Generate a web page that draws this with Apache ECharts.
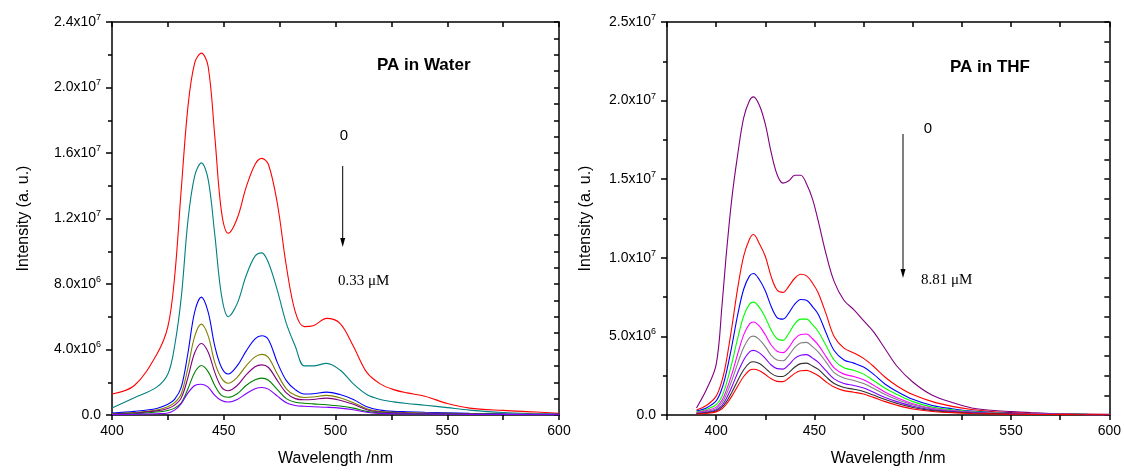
<!DOCTYPE html>
<html><head><meta charset="utf-8">
<script src="https://cdn.jsdelivr.net/npm/echarts@6/dist/echarts.min.js"></script>
<style>html,body{margin:0;padding:0;background:#fff}#c{width:1124px;height:472px}</style>
</head><body><div id="c"></div>
<script>
// ---------- data (intensity in units of 1e6 a.u.) ----------
const waterWl = [400,410,420,425,428,431,434,437,440,443,446,449,452,456,460,464,467,470,474,478,482,486,490,496,502,508,514,520,526,532,540,550,560,575,590,600];
const waterRed    = [1.28,1.8,3.7,5.4,8.4,13.8,18.85,21.5,22.1,21.3,17.0,12.4,11.1,12.0,13.9,15.3,15.67,15.3,12.9,9.1,6.3,5.4,5.45,5.9,5.6,4.2,2.6,1.9,1.55,1.35,1.15,0.7,0.42,0.28,0.18,0.1];
const waterTeal   = [0.42,1.05,1.7,2.5,4.2,7.2,11.9,14.6,15.4,14.4,11.0,7.3,6.0,6.8,8.5,9.7,9.9,9.3,7.6,5.6,4.2,3.0,3.0,3.15,2.75,1.9,1.25,0.95,0.8,0.7,0.6,0.45,0.3,0.15,0.08,0.05];
const waterBlue   = [0.12,0.22,0.4,0.65,0.95,1.7,3.8,6.3,7.2,6.3,4.2,2.9,2.5,3.0,3.9,4.65,4.84,4.6,3.2,2.1,1.55,1.28,1.3,1.4,1.25,0.95,0.5,0.3,0.22,0.2,0.17,0.14,0.1,0.07,0.05,0.05];
const waterOlive  = [0.08,0.15,0.3,0.5,0.75,1.3,2.9,4.8,5.55,4.85,3.2,2.25,1.94,2.3,3.0,3.55,3.7,3.5,2.5,1.6,1.2,1.07,1.1,1.2,1.05,0.75,0.38,0.22,0.17,0.15,0.12,0.1,0.08,0.05,0.04,0.03];
const waterPurple = [0.06,0.12,0.25,0.4,0.6,1.05,2.3,3.8,4.37,3.85,2.6,1.7,1.48,1.8,2.45,2.95,3.06,2.9,2.1,1.35,1.0,0.93,0.95,1.03,0.9,0.65,0.32,0.18,0.14,0.12,0.1,0.08,0.06,0.04,0.03,0.02];
const waterGreen  = [0.04,0.08,0.18,0.28,0.42,0.75,1.6,2.6,3.02,2.65,1.8,1.2,1.08,1.3,1.8,2.15,2.25,2.12,1.55,1.0,0.78,0.72,0.68,0.63,0.55,0.42,0.22,0.13,0.1,0.09,0.07,0.06,0.05,0.03,0.02,0.02];
const waterViolet = [0.02,0.04,0.08,0.12,0.3,0.7,1.35,1.8,1.88,1.7,1.2,0.88,0.79,0.95,1.3,1.6,1.68,1.58,1.15,0.75,0.58,0.53,0.5,0.47,0.42,0.32,0.17,0.1,0.08,0.07,0.06,0.05,0.04,0.03,0.02,0.02];

const thfWl = [390,395,400,403,405,408,411,414,417,419,422,425,428,431,434,437,440,443,446,449,452,456,460,465,470,475,480,486,492,500,510,520,530,540,550,560,570,585,600];
const thfPurple  = [0.45,1.6,3.2,7.0,10.0,13.8,16.6,18.9,20.0,20.24,19.7,18.5,16.7,15.3,14.75,14.9,15.25,15.25,14.7,13.75,12.3,10.2,8.5,7.3,6.7,6.0,5.3,4.2,3.1,2.1,1.25,0.8,0.45,0.3,0.22,0.15,0.1,0.06,0.04];
const thfRed1    = [0.32,0.6,1.2,2.2,3.3,5.6,8.1,10.1,11.2,11.48,10.9,10.1,8.8,7.95,7.8,8.2,8.7,8.95,8.85,8.4,7.75,6.4,5.0,4.25,3.95,3.6,3.1,2.4,1.85,1.3,0.85,0.55,0.35,0.22,0.15,0.1,0.07,0.05,0.03];
const thfBlue    = [0.25,0.45,0.9,1.7,2.6,4.4,6.4,8.0,8.85,9.0,8.6,7.9,6.9,6.2,6.1,6.5,7.05,7.35,7.3,6.9,6.4,5.2,4.1,3.5,3.3,3.05,2.6,1.96,1.5,1.0,0.6,0.4,0.25,0.17,0.12,0.08,0.06,0.04,0.03];
const thfGreen   = [0.2,0.35,0.65,1.2,1.9,3.3,4.9,6.3,7.05,7.18,6.85,6.2,5.4,4.85,4.75,5.2,5.8,6.1,6.1,5.75,5.3,4.4,3.5,3.0,2.85,2.6,2.2,1.7,1.3,0.85,0.5,0.33,0.22,0.15,0.1,0.07,0.05,0.04,0.03];
const thfMagenta = [0.15,0.28,0.5,0.95,1.5,2.6,3.9,5.1,5.8,5.92,5.65,5.1,4.45,4.05,3.97,4.3,4.85,5.12,5.15,4.85,4.45,3.7,3.0,2.6,2.45,2.25,1.9,1.45,1.1,0.72,0.42,0.28,0.19,0.13,0.09,0.06,0.05,0.03,0.02];
const thfGray    = [0.12,0.22,0.4,0.78,1.25,2.2,3.3,4.3,4.92,5.02,4.8,4.35,3.8,3.5,3.45,3.8,4.3,4.58,4.62,4.35,4.0,3.35,2.7,2.35,2.2,2.0,1.7,1.3,0.98,0.65,0.38,0.25,0.17,0.12,0.08,0.06,0.04,0.03,0.02];
const thfViolet  = [0.1,0.18,0.32,0.62,1.0,1.8,2.7,3.5,4.02,4.11,3.95,3.6,3.18,2.95,2.92,3.2,3.6,3.8,3.84,3.62,3.35,2.8,2.3,2.0,1.88,1.72,1.45,1.12,0.85,0.56,0.33,0.22,0.15,0.1,0.07,0.05,0.04,0.03,0.02];
const thfDark    = [0.08,0.14,0.26,0.5,0.8,1.45,2.2,2.88,3.32,3.39,3.27,2.98,2.65,2.47,2.45,2.7,3.05,3.27,3.3,3.12,2.9,2.42,2.0,1.75,1.64,1.5,1.27,0.98,0.74,0.48,0.28,0.19,0.13,0.09,0.06,0.04,0.03,0.02,0.02];
const thfRed2    = [0.06,0.1,0.2,0.4,0.65,1.2,1.85,2.45,2.85,2.91,2.82,2.58,2.3,2.14,2.12,2.35,2.65,2.82,2.84,2.7,2.5,2.1,1.78,1.55,1.45,1.33,1.12,0.85,0.62,0.38,0.22,0.15,0.1,0.07,0.05,0.04,0.03,0.02,0.02];

const waterSeries = [
  ['red', waterRed, '#ff0000'], ['teal', waterTeal, '#008080'], ['blue', waterBlue, '#0000ff'],
  ['olive', waterOlive, '#808000'], ['purple', waterPurple, '#800080'], ['green', waterGreen, '#008000'],
  ['violet', waterViolet, '#8000ff']
];
const thfSeries = [
  ['purple', thfPurple, '#800080'], ['red1', thfRed1, '#ff0000'], ['blue', thfBlue, '#0000ff'],
  ['green', thfGreen, '#00ff00'], ['magenta', thfMagenta, '#ff00ff'], ['gray', thfGray, '#808080'],
  ['violet', thfViolet, '#8000ff'], ['dark', thfDark, '#303030'], ['red2', thfRed2, '#ff0000']
];

// ---------- chart ----------
const FONT = 'Liberation Sans, Arial, sans-serif';
function sci(v) {
  if (v === 0) return '{m|0.0}';
  let exp = 6, m = v;
  if (v >= 10) { exp = 7; m = v / 10; }
  return '{m|' + m.toFixed(1) + 'x10}{s|' + exp + '}';
}
const richLab = {
  m: { fontSize: 14, fontFamily: FONT, color: '#000' },
  s: { fontSize: 9, fontFamily: FONT, color: '#000', verticalAlign: 'top', padding: [0, 0, 9, 0] }
};
const axLine = { show: true, onZero: false, lineStyle: { color: '#000', width: 1.5 } };

function xBottom(grid, min) {
  return {
    type: 'value', gridIndex: grid, position: 'bottom', min: min, max: 600, interval: 25,
    axisLine: axLine, splitLine: { show: false },
    axisTick: { inside: false, length: 5, lineStyle: { color: '#000', width: 1.5 } },
    axisLabel: { margin: 9, fontSize: 14, fontFamily: FONT, color: '#000',
      formatter: v => (v % 50 === 0 ? String(v) : '') },
    name: 'Wavelength /nm', nameLocation: 'middle', nameGap: 36,
    nameTextStyle: { fontSize: 16, fontFamily: FONT, color: '#000' }
  };
}
function xTop(grid, min) {
  return {
    type: 'value', gridIndex: grid, position: 'top', min: min, max: 600, interval: 25,
    axisLine: axLine, splitLine: { show: false },
    axisTick: { inside: true, length: 5, lineStyle: { color: '#000', width: 1.5 } },
    axisLabel: { show: false }
  };
}
function yLeft(grid, max, interval, gap) {
  return {
    type: 'value', gridIndex: grid, position: 'left', min: 0, max: max, interval: interval,
    axisLine: axLine, splitLine: { show: false },
    axisTick: { inside: false, length: 6, lineStyle: { color: '#000', width: 1.5 } },
    minorTick: { show: true, splitNumber: 2, length: 4, lineStyle: { color: '#000', width: 1.5 } },
    axisLabel: { margin: 11, formatter: sci, rich: richLab },
    name: 'Intensity (a. u.)', nameLocation: 'middle', nameGap: gap, nameRotate: 90,
    nameTextStyle: { fontSize: 16, fontFamily: FONT, color: '#000' }
  };
}
function yRight(grid, max, interval) {
  return {
    type: 'value', gridIndex: grid, position: 'right', min: 0, max: max, interval: interval,
    axisLine: axLine, splitLine: { show: false },
    axisTick: { inside: true, length: 5, lineStyle: { color: '#000', width: 1.5 } },
    minorTick: { show: true, splitNumber: 2, length: 5, lineStyle: { color: '#000', width: 1.5 } },
    axisLabel: { show: false }
  };
}
function mk(list, wl, xi, yi) {
  return list.map(([name, vals, color]) => ({
    name: name, type: 'line', xAxisIndex: xi, yAxisIndex: yi,
    data: wl.map((w, i) => [w, vals[i]]),
    showSymbol: false, smooth: 0.35, silent: true,
    lineStyle: { color: color, width: 1.1 }, itemStyle: { color: color }
  }));
}

function arrow(x, y1, y2) {
  return [
    { type: 'line', shape: { x1: x, y1: y1, x2: x, y2: y2 - 6 }, style: { stroke: '#000', lineWidth: 1 } },
    { type: 'polygon', shape: { points: [[x - 2.5, y2 - 9], [x + 2.5, y2 - 9], [x, y2]] }, style: { fill: '#000' } }
  ];
}
function txt(x, y, t, font, align) {
  return { type: 'text', x: x, y: y, style: { text: t, font: font, fill: '#000', textAlign: align || 'left', textVerticalAlign: 'middle' } };
}

const chart = echarts.init(document.getElementById('c'), null, { renderer: 'canvas' });
chart.setOption({
  animation: false,
  backgroundColor: '#fff',
  grid: [
    { left: 112, top: 22, width: 447, height: 395 },
    { left: 667, top: 22, width: 445, height: 396 }
  ],
  xAxis: [xBottom(0, 400), xTop(0, 400), xBottom(1, 375), xTop(1, 375)],
  yAxis: [yLeft(0, 24, 4, 80), yRight(0, 24, 2), yLeft(1, 25, 5, 73), yRight(1, 25, 2.5)],
  series: [].concat(mk(waterSeries, waterWl, 0, 0), mk(thfSeries, thfWl, 2, 2)),
  graphic: [].concat(
    [txt(377, 65, 'PA in Water', 'bold 17px ' + FONT),
     txt(950, 67, 'PA in THF', 'bold 17px ' + FONT),
     txt(344, 136, '0', '15px ' + FONT, 'center'),
     txt(928, 129, '0', '15px ' + FONT, 'center'),
     txt(338, 281, '0.33 \u03bcM', '15px Liberation Serif, Times New Roman, serif'),
     txt(921, 280, '8.81 \u03bcM', '15px Liberation Serif, Times New Roman, serif')],
    arrow(342.7, 166, 247), arrow(903, 134, 278)
  )
});
</script></body></html>
